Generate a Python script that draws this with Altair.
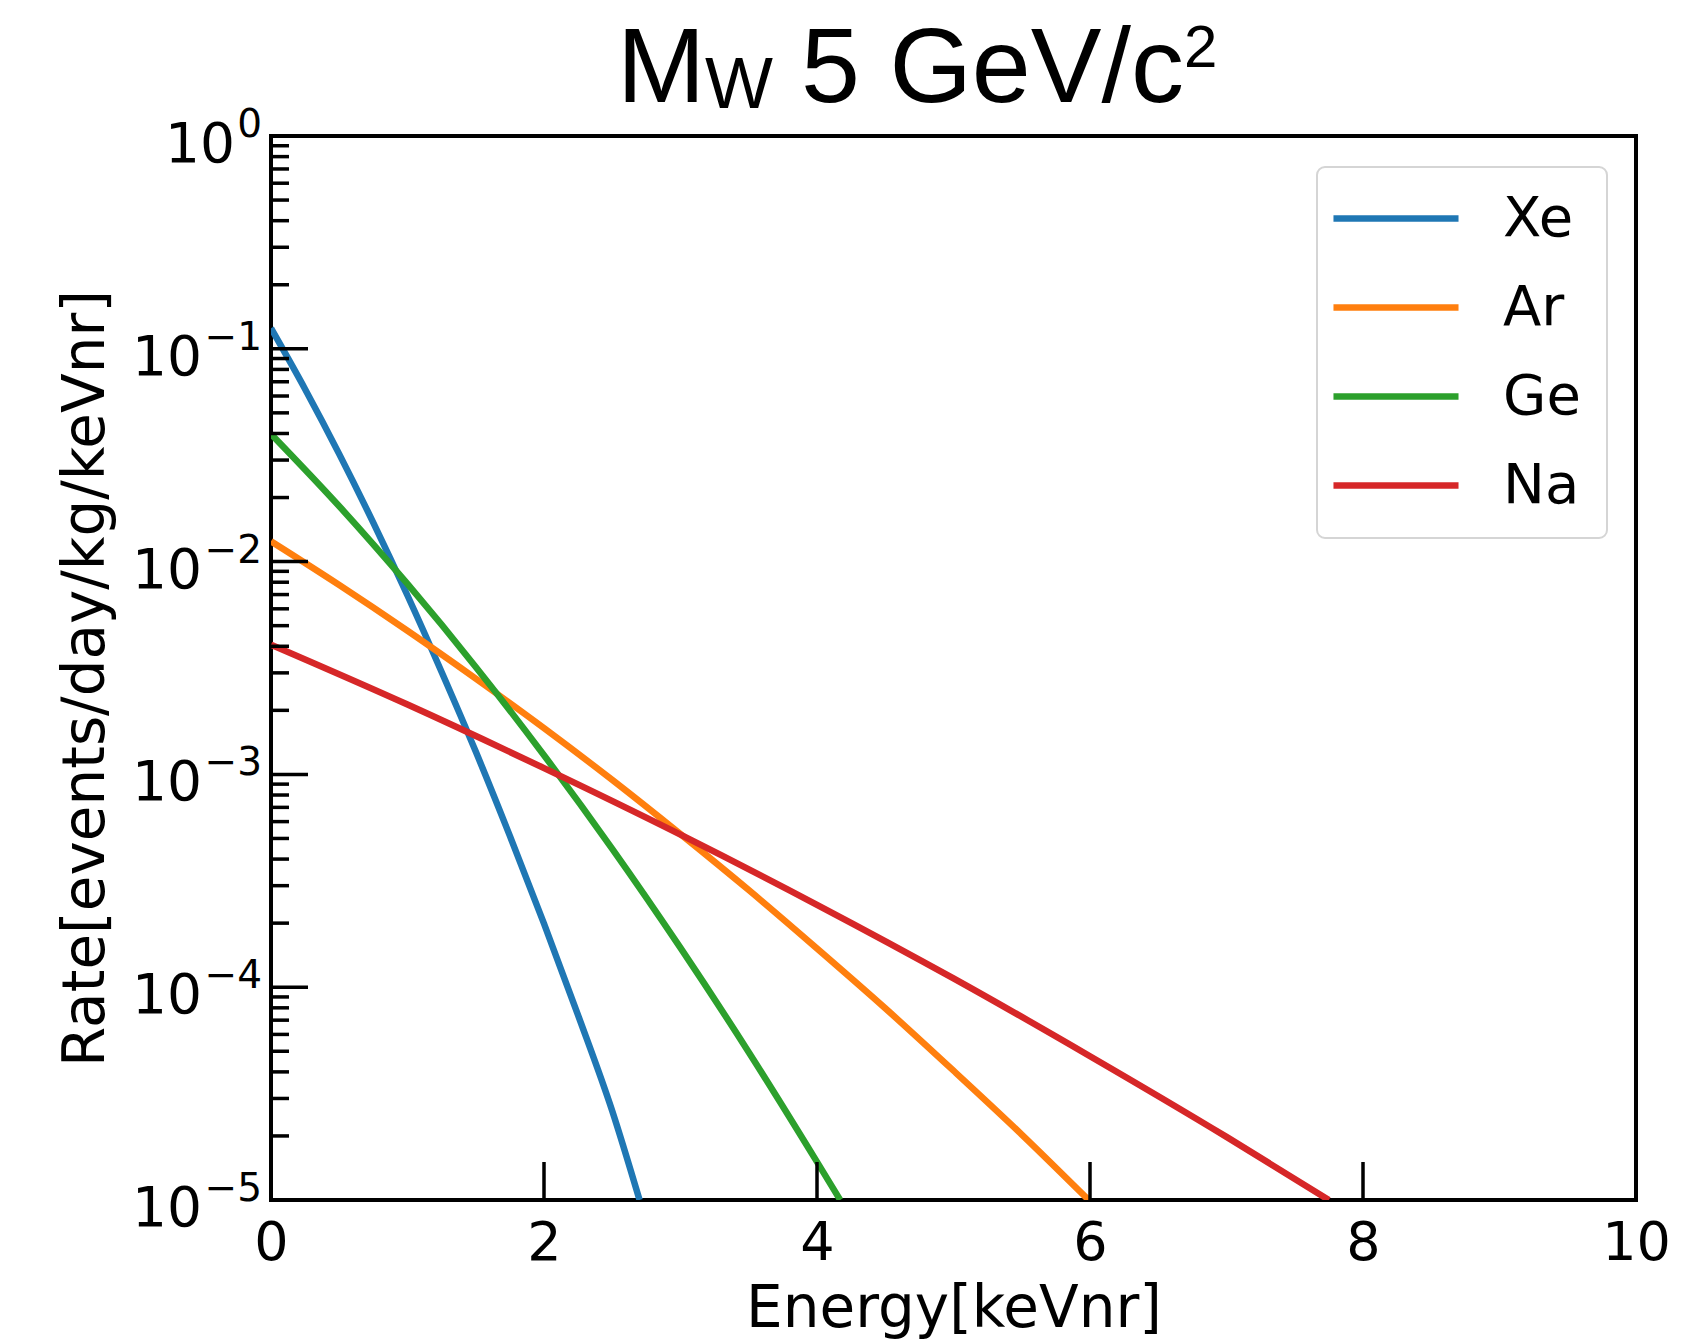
import altair as alt
import pandas as pd

# ---------------- data ----------------
series_names = ["Xe", "Ar", "Ge", "Na"]
series_colors = ["#1f77b4", "#ff7f0e", "#2ca02c", "#d62728"]

energy_xe = [0.0, 0.25, 0.5, 0.75, 1.0, 1.25, 1.5, 1.75, 2.0, 2.25, 2.5, 2.70]
rate_xe = [0.125, 0.0646, 0.0320, 0.0152, 0.00693, 0.00303, 0.00128, 0.000514,
           0.000199, 7.38e-5, 2.62e-5, 1.0e-5]

energy_ar = [0.0, 0.5, 1.0, 1.5, 2.0, 2.5, 3.0, 3.5, 4.0, 4.5, 5.0, 5.5, 5.99]
rate_ar = [0.01245, 0.00776, 0.00473, 0.00282, 0.00165, 0.000942, 0.000524,
           0.000286, 0.000152, 7.96e-5, 4.05e-5, 2.03e-5, 1.0e-5]

energy_ge = [0.0, 0.5, 1.0, 1.5, 2.0, 2.5, 3.0, 3.5, 4.0, 4.17]
rate_ge = [0.0398, 0.0182, 0.00785, 0.00320, 0.00123, 0.000447, 0.000153,
           4.95e-5, 1.51e-5, 1.0e-5]

energy_na = [0.0, 1.0, 2.0, 3.0, 4.0, 5.0, 6.0, 7.0, 7.75]
rate_na = [0.00407, 0.00213, 0.00107, 0.000521, 0.000244, 0.000110, 4.74e-5,
           1.98e-5, 1.0e-5]

x_tick_values = [0, 2, 4, 6, 8, 10]
y_tick_values = [1e-5, 1e-4, 1e-3, 1e-2, 1e-1, 1.0]
y_tick_base = ["10", "10", "10", "10", "10", "10"]
y_tick_exponents = ["−5", "−4", "−3", "−2", "−1", "0"]
y_minor_values = [m * d for d in [1e-5, 1e-4, 1e-3, 1e-2, 1e-1] for m in range(2, 10)]

title_main = "M"
title_sub = "W"
title_rest = "5 GeV/c"
title_sup = "2"
x_title = "Energy[keVnr]"
y_title = "Rate[events/day/kg/keVnr]"

# ---------------- build tables ----------------
rows = []
for name, es, rs in [("Xe", energy_xe, rate_xe), ("Ar", energy_ar, rate_ar),
                     ("Ge", energy_ge, rate_ge), ("Na", energy_na, rate_na)]:
    for e, r in zip(es, rs):
        rows.append({"element": name, "energy": e, "rate": r,
                     "order": series_names.index(name)})
df = pd.DataFrame(rows)
ylab_df = pd.DataFrame({"v": y_tick_values, "base": y_tick_base, "exp": y_tick_exponents})

W, H = 1365, 1064
FONT = "DejaVu Sans"

x_scale = alt.Scale(domain=[0, 10], nice=False, zero=False)
y_scale = alt.Scale(type="log", domain=[1e-5, 1.0], nice=False)

x_axis = alt.Axis(values=x_tick_values, ticks=False, tickSize=0, domain=False, grid=False,
                  labelFont=FONT, labelFontSize=54, labelColor="black",
                  labelBaseline="alphabetic", labelPadding=59, labelFlush=False,
                  labelOverlap=False,
                  title=x_title, titleFont=FONT, titleFontSize=58, titleFontWeight="normal",
                  titleColor="black", titleBaseline="alphabetic", titleY=126, titleX=W / 2)
y_axis = alt.Axis(values=y_tick_values, ticks=False, tickSize=0, domain=False, grid=False,
                  labels=False,
                  title=y_title, titleFont=FONT, titleFontSize=58, titleFontWeight="normal",
                  titleColor="black", titleBaseline="alphabetic", titleAngle=270,
                  titleAlign="center", titleX=-168, titleY=542)

legend = alt.Legend(orient="none", legendX=1045, legendY=31, title=None,
                    symbolType="M-0.83,0H2.22", symbolSize=6724, symbolStrokeWidth=6.5,
                    labelFont=FONT, labelFontSize=56, labelColor="black", labelOffset=91,
                    padding=7, rowPadding=16)

legend_box = alt.Chart(pd.DataFrame({"k": [0]})).mark_rect(
    fill="white", stroke="#d5d5d5", strokeWidth=2, cornerRadius=8).encode(
    x=alt.value(1046), x2=alt.value(1336), y=alt.value(31), y2=alt.value(402))

lines = alt.Chart(df).mark_line(strokeWidth=6.5, interpolate="monotone", clip=True).encode(
    x=alt.X("energy:Q", scale=x_scale, axis=x_axis),
    y=alt.Y("rate:Q", scale=y_scale, axis=y_axis),
    color=alt.Color("element:N", scale=alt.Scale(domain=series_names, range=series_colors),
                    legend=legend, sort=series_names),
    order="order:Q",
)

major_y = alt.Chart(pd.DataFrame({"v": y_tick_values})).mark_rule(
    color="black", strokeWidth=3.5).encode(
    y=alt.Y("v:Q", scale=y_scale, axis=y_axis), x=alt.value(0), x2=alt.value(37))
minor_y = alt.Chart(pd.DataFrame({"v": y_minor_values})).mark_rule(
    color="black", strokeWidth=3.5).encode(
    y=alt.Y("v:Q", scale=y_scale, axis=y_axis), x=alt.value(0), x2=alt.value(18))
major_x = alt.Chart(pd.DataFrame({"v": x_tick_values})).mark_rule(
    color="black", strokeWidth=3.5).encode(
    x=alt.X("v:Q", scale=x_scale, axis=x_axis), y=alt.value(H), y2=alt.value(H - 38))

# y tick labels: "10" with a raised, smaller exponent (matplotlib mathtext style)
ylab_exp = alt.Chart(ylab_df).mark_text(
    font=FONT, fontSize=39, align="right", baseline="alphabetic", color="black", dy=1).encode(
    y=alt.Y("v:Q", scale=y_scale, axis=y_axis), x=alt.value(-9), text="exp:N")
ylab_base_neg = alt.Chart(ylab_df).transform_filter("length(datum.exp) > 1").mark_text(
    font=FONT, fontSize=55, align="right", baseline="alphabetic", color="black", dy=26).encode(
    y=alt.Y("v:Q", scale=y_scale, axis=y_axis), x=alt.value(-69), text="base:N")
ylab_base_pos = alt.Chart(ylab_df).transform_filter("length(datum.exp) == 1").mark_text(
    font=FONT, fontSize=55, align="right", baseline="alphabetic", color="black", dy=26).encode(
    y=alt.Y("v:Q", scale=y_scale, axis=y_axis), x=alt.value(-36), text="base:N")

TFONT = "Liberation Sans"
t1 = alt.Chart(pd.DataFrame({"t": [title_main]})).mark_text(
    font=TFONT, fontSize=106, align="left", baseline="alphabetic", color="black").encode(
    text="t:N", x=alt.value(346), y=alt.value(-34))
t2 = alt.Chart(pd.DataFrame({"t": [title_sub]})).mark_text(
    font=TFONT, fontSize=72, align="left", baseline="alphabetic", color="black").encode(
    text="t:N", x=alt.value(434), y=alt.value(-28))
t3 = alt.Chart(pd.DataFrame({"t": [title_rest]})).mark_text(
    font=TFONT, fontSize=106, align="left", baseline="alphabetic", color="black").encode(
    text="t:N", x=alt.value(530), y=alt.value(-34))
t4 = alt.Chart(pd.DataFrame({"t": [title_sup]})).mark_text(
    font=TFONT, fontSize=60, align="left", baseline="alphabetic", color="black").encode(
    text="t:N", x=alt.value(913), y=alt.value(-69))

chart = alt.layer(legend_box, lines, minor_y, major_y, major_x,
                  ylab_exp, ylab_base_neg, ylab_base_pos, t1, t2, t3, t4).properties(
    width=W, height=H,
    padding={"left": 271, "top": 136, "right": 49, "bottom": 140},
    autosize=alt.AutoSizeParams(type="none"),
    background="white",
).configure_view(stroke="black", strokeWidth=4)

chart.save("out.html", embed_options={"renderer": "svg", "actions": False})
